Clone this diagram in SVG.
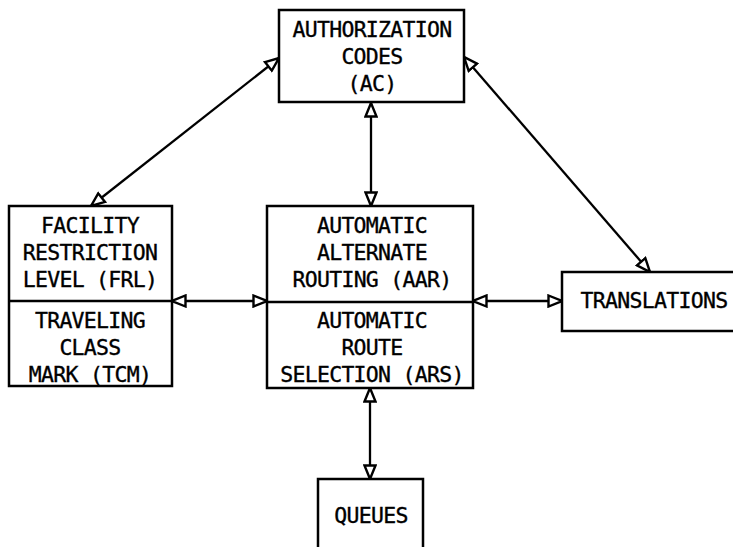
<svg xmlns="http://www.w3.org/2000/svg" width="733" height="547" viewBox="0 0 733 547">
<defs>
<style>
.box{fill:#fff;stroke:#000;stroke-width:2.5}
.t{font-family:"DejaVu Sans Mono","Liberation Mono",monospace;font-size:21.5px;letter-spacing:-0.7px;fill:#000;stroke:#000;stroke-width:0.35;text-anchor:middle}
.c{stroke:#000;stroke-width:2.3;fill:none;marker-start:url(#ah);marker-end:url(#ah)}
</style>
<marker id="ah" viewBox="0 0 16 14" refX="15" refY="7" markerWidth="16" markerHeight="14" markerUnits="userSpaceOnUse" orient="auto-start-reverse">
<path d="M1.5,1.5 L15,7 L1.5,12.5 Z" fill="#fff" stroke="#000" stroke-width="2.4" stroke-linejoin="miter"/>
</marker>
</defs>
<rect width="733" height="547" fill="#fff"/>
<g id="connectors">
<line class="c" x1="279" y1="58" x2="91" y2="206"/>
<line class="c" x1="464" y1="57" x2="650" y2="272"/>
<line class="c" x1="371" y1="103" x2="371" y2="206"/>
<line class="c" x1="172" y1="301" x2="267" y2="301"/>
<line class="c" x1="473" y1="301" x2="562" y2="301"/>
<line class="c" x1="370" y1="388" x2="370" y2="479"/>
</g>
<g id="ac">
<rect class="box" x="279" y="10" width="185" height="92"/>
<text class="t" x="372" y="37">AUTHORIZATION</text>
<text class="t" x="372" y="64">CODES</text>
<text class="t" x="372" y="91">(AC)</text>
</g>
<g id="frl-tcm">
<rect class="box" x="9" y="206" width="163" height="180"/>
<line x1="9" y1="301" x2="172" y2="301" stroke="#000" stroke-width="2.5"/>
<text class="t" x="90" y="233">FACILITY</text>
<text class="t" x="90" y="260">RESTRICTION</text>
<text class="t" x="90" y="287">LEVEL (FRL)</text>
<text class="t" x="90" y="328">TRAVELING</text>
<text class="t" x="90" y="355">CLASS</text>
<text class="t" x="90" y="382">MARK (TCM)</text>
</g>
<g id="aar-ars">
<rect class="box" x="267" y="206" width="206" height="182"/>
<line x1="267" y1="302" x2="473" y2="302" stroke="#000" stroke-width="2.5"/>
<text class="t" x="372" y="233">AUTOMATIC</text>
<text class="t" x="372" y="260">ALTERNATE</text>
<text class="t" x="372" y="287">ROUTING (AAR)</text>
<text class="t" x="372" y="328">AUTOMATIC</text>
<text class="t" x="372" y="355">ROUTE</text>
<text class="t" x="372" y="382">SELECTION (ARS)</text>
</g>
<g id="translations">
<rect class="box" x="562" y="272" width="185" height="59"/>
<text class="t" x="654" y="308">TRANSLATIONS</text>
</g>
<g id="queues">
<rect class="box" x="318" y="479" width="105" height="80"/>
<text class="t" x="371" y="523">QUEUES</text>
</g>
</svg>
